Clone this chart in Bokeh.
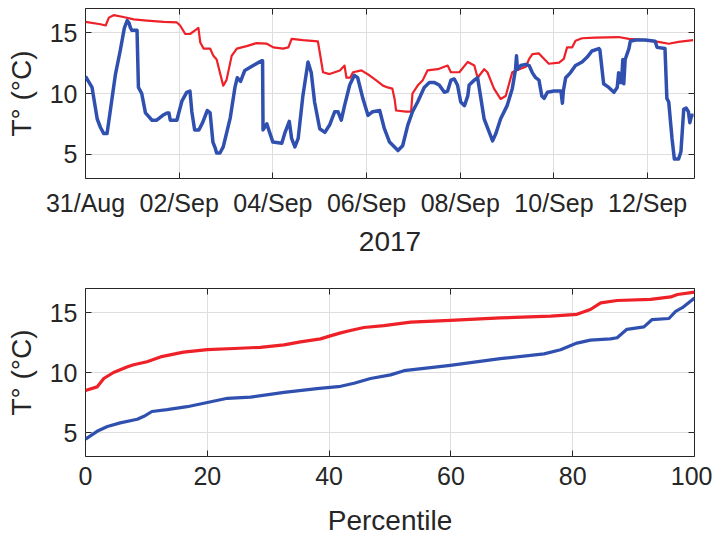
import numpy as np
from bokeh.plotting import figure
from bokeh.layouts import column
from bokeh.models import (FixedTicker, DatetimeTickFormatter, Range1d, LinearAxis,
                          DatetimeAxis, CustomJSTickFormatter)
from bokeh.embed import file_html
from bokeh.resources import INLINE

# ---------------- data ----------------
start_date = "2017-08-31T00:00"
end_date = "2017-09-13T00:00"
tick_dates = ["2017-08-31", "2017-09-02", "2017-09-04", "2017-09-06",
              "2017-09-08", "2017-09-10", "2017-09-12"]

# blue series: days since 31/Aug 00:00, temperature
blue_days = [0.00, 0.14, 0.25, 0.32, 0.39, 0.46, 0.53, 0.64, 0.74, 0.83, 0.89, 0.93, 0.96, 0.99,
             1.10, 1.13, 1.20, 1.28, 1.42, 1.52, 1.65, 1.74, 1.78, 1.81, 1.95, 2.06, 2.16, 2.23,
             2.27, 2.33, 2.42, 2.50, 2.60, 2.66, 2.72, 2.77, 2.80, 2.87, 2.94, 3.09, 3.19, 3.24,
             3.31, 3.40, 3.58, 3.76, 3.78, 3.79, 3.87, 3.93, 4.00, 4.19, 4.26, 4.35, 4.40, 4.47,
             4.54, 4.64, 4.75, 4.82, 4.89, 5.00, 5.11, 5.21, 5.32, 5.39, 5.46, 5.53, 5.64, 5.74,
             5.81, 5.92, 6.03, 6.13, 6.28, 6.38, 6.49, 6.67, 6.77, 6.88, 6.98, 7.09, 7.23, 7.34,
             7.45, 7.55, 7.66, 7.73, 7.80, 7.87, 7.94, 8.01, 8.09, 8.16, 8.19, 8.30, 8.37, 8.44,
             8.51, 8.62, 8.69, 8.76, 8.86, 9.00, 9.11, 9.18, 9.20, 9.22, 9.29, 9.40, 9.47, 9.54,
             9.61, 9.68, 9.74, 9.79, 9.86, 10.00, 10.11, 10.15, 10.18, 10.20, 10.25, 10.35, 10.46,
             10.60, 10.71, 10.81, 10.96, 10.98, 11.06, 11.17, 11.28, 11.35, 11.38, 11.41, 11.44,
             11.47, 11.49, 11.52, 11.60, 11.63, 11.74, 11.95, 12.16, 12.20, 12.37, 12.41, 12.45,
             12.52, 12.57, 12.66, 12.71, 12.77, 12.82, 12.87, 12.90, 12.94, 12.98]
blue_temp = [11.4, 10.5, 7.9, 7.2, 6.7, 6.7, 8.6, 11.6, 13.5, 15.4, 16.0, 15.8, 15.4, 15.2,
             15.2, 10.5, 10.0, 8.4, 7.8, 7.8, 8.2, 8.4, 8.4, 7.8, 7.8, 9.4, 10.1, 10.2,
             8.5, 7.0, 7.0, 7.6, 8.6, 8.4, 6.0, 5.5, 5.1, 5.1, 5.6, 8.0, 10.5, 11.3,
             11.0, 11.9, 12.3, 12.7, 12.7, 7.0, 7.5, 6.8, 6.0, 5.9, 6.8, 7.7, 6.3, 5.6,
             6.3, 9.8, 12.6, 11.7, 9.3, 7.1, 6.8, 7.4, 8.5, 8.5, 7.8, 9.0, 10.7, 11.5,
             11.3, 9.6, 8.2, 8.5, 8.6, 7.1, 6.0, 5.3, 5.7, 7.4, 8.5, 9.3, 10.5, 10.9,
             10.9, 10.7, 10.1, 10.2, 11.1, 11.2, 10.7, 9.3, 9.0, 9.8, 10.7, 11.1, 11.3, 9.6,
             7.9, 6.8, 6.1, 6.7, 7.9, 9.0, 10.4, 12.0, 13.1, 12.0, 12.3, 12.4, 12.3, 11.7,
             11.3, 11.1, 9.8, 9.6, 10.1, 10.2, 10.2, 10.2, 9.2, 10.2, 11.3, 11.7, 12.3,
             12.6, 13.0, 13.5, 13.7, 13.6, 10.8, 10.5, 10.1, 10.5, 11.7, 10.9, 10.9,
             12.8, 10.8, 12.8, 13.7, 14.3, 14.4, 14.4, 14.3, 13.8, 13.7, 9.6, 9.3,
             6.3, 4.6, 4.6, 5.2, 8.7, 8.8, 8.5, 7.6, 8.2, 8.2]

# red series
red_days = [0.00, 0.32, 0.43, 0.50, 0.60, 0.81, 1.03, 1.31, 1.67, 1.95, 2.02, 2.13, 2.23, 2.34,
            2.41, 2.45, 2.52, 2.66, 2.73, 2.80, 2.87, 2.94, 3.01, 3.12, 3.23, 3.44, 3.65, 3.87,
            4.01, 4.22, 4.33, 4.40, 4.64, 4.96, 5.00, 5.07, 5.21, 5.43, 5.53, 5.57, 5.65, 5.71,
            5.89, 6.06, 6.20, 6.35, 6.45, 6.55, 6.60, 6.63, 6.84, 6.95, 6.98, 7.09, 7.20, 7.30,
            7.52, 7.73, 7.80, 7.98, 8.16, 8.30, 8.37, 8.51, 8.58, 8.72, 8.86, 8.97, 9.11, 9.26,
            9.40, 9.47, 9.54, 9.68, 9.75, 9.89, 10.11, 10.21, 10.28, 10.39, 10.46, 10.60, 10.88,
            11.38, 11.60, 11.95, 12.23, 12.45, 12.66, 12.97]
red_temp = [15.9, 15.7, 15.6, 16.25, 16.45, 16.3, 16.1, 16.0, 15.9, 15.85, 15.6, 14.9, 14.9, 15.2,
            15.4, 14.2, 13.7, 13.7, 13.1, 12.8, 11.7, 10.65, 11.1, 13.1, 13.7, 13.9, 14.15, 14.1,
            13.8, 13.7, 13.8, 14.5, 14.4, 14.3, 13.4, 11.75, 11.6, 11.9, 12.3, 11.3, 11.3, 11.75,
            11.9, 11.5, 11.1, 10.65, 10.5, 10.4, 9.5, 8.6, 8.5, 8.5, 10.0, 10.65, 11.1, 11.9,
            12.0, 12.3, 11.75, 11.75, 12.6, 12.3, 11.3, 12.0, 11.75, 10.4, 9.55, 9.8, 11.75, 12.0,
            12.2, 12.85, 13.25, 13.3, 13.0, 12.45, 12.55, 12.85, 13.8, 13.8, 14.35, 14.55, 14.6,
            14.65, 14.5, 14.4, 14.25, 14.1, 14.25, 14.4]

# percentile curves
red_pct = [0, 1.9, 3, 4.6, 6.8, 7.9, 10.1, 12.3, 16.1, 20, 24.4, 28.7, 32.6, 35.3, 38.6, 40.2,
           41.9, 43.5, 45.7, 49, 53.4, 59.9, 68.1, 76.4, 80.7, 82.9, 84.6, 87.3, 92.8, 96.1,
           97.2, 100]
red_pct_temp = [8.5, 8.8, 9.5, 10.0, 10.45, 10.65, 10.9, 11.3, 11.7, 11.9, 12.0, 12.1, 12.3,
                12.55, 12.8, 13.05, 13.3, 13.5, 13.75, 13.9, 14.2, 14.35, 14.55, 14.7, 14.85,
                15.25, 15.8, 16.0, 16.1, 16.3, 16.5, 16.7]
blue_pct = [0, 1.9, 3.6, 5.7, 8.5, 9.6, 10.9, 13.4, 16.7, 20, 23.3, 27.1, 32.6, 38, 41.9, 44.1,
            46.8, 50.1, 52.3, 59.9, 68.1, 75.3, 78, 80.7, 82.9, 86.2, 87.3, 88.9, 91.7, 93,
            95.8, 96.9, 98, 100]
blue_pct_temp = [4.45, 5.1, 5.5, 5.8, 6.1, 6.35, 6.75, 6.9, 7.15, 7.5, 7.85, 7.95, 8.35, 8.65,
                 8.85, 9.1, 9.5, 9.8, 10.15, 10.6, 11.15, 11.55, 11.9, 12.45, 12.7, 12.8, 12.9,
                 13.6, 13.8, 14.4, 14.5, 15.1, 15.4, 16.2]

y_ticks = [5, 10, 15]
pct_ticks = [0, 20, 40, 60, 80, 100]

# ---------------- style ----------------
RED = "#EE2028"
BLUE = "#3050B0"
TXT = "#262626"
FONT = "Liberation Sans"
TICK_FS = "25px"
LAB_FS = "28px"
GRID = "#dedede"

t0 = np.datetime64(start_date)


def to_dt(days):
    return t0 + (np.array(days) * 86400000).astype("timedelta64[ms]")


def style_axis(ax):
    ax.axis_line_color = None
    ax.major_tick_in = 6
    ax.major_tick_out = 0
    ax.minor_tick_in = 0
    ax.minor_tick_out = 0
    ax.major_tick_line_color = TXT
    ax.major_label_text_font = FONT
    ax.major_label_text_font_size = TICK_FS
    ax.major_label_text_color = TXT
    ax.axis_label_text_font = FONT
    ax.axis_label_text_font_size = LAB_FS
    ax.axis_label_text_font_style = "normal"
    ax.axis_label_text_color = TXT


def blank_axis(ax):
    style_axis(ax)
    ax.major_label_text_font_size = "0px"
    ax.major_label_standoff = 0
    ax.formatter = CustomJSTickFormatter(code="return ''")


def style_fig(p):
    p.outline_line_color = TXT
    p.outline_line_width = 1
    p.xgrid.grid_line_color = GRID
    p.ygrid.grid_line_color = GRID
    p.background_fill_color = "white"
    p.border_fill_color = "white"


tick_ms = [np.datetime64(d).astype("datetime64[ms]").astype(np.int64) for d in tick_dates]

# ---------------- top figure ----------------
p1 = figure(width=712, height=278, x_axis_type="datetime", output_backend="svg",
            toolbar_location=None, min_border_left=85, min_border_right=18,
            min_border_top=8, min_border_bottom=100,
            x_range=Range1d(np.datetime64(start_date), np.datetime64(end_date)),
            y_range=Range1d(3, 17))
style_fig(p1)
p1.line(to_dt(red_days), red_temp, color=RED, line_width=2.2, line_join="round")
p1.line(to_dt(blue_days), blue_temp, color=BLUE, line_width=3.5, line_join="round")

p1.xaxis.ticker = FixedTicker(ticks=tick_ms)
p1.xaxis.formatter = DatetimeTickFormatter(days="%d/%b", months="%d/%b", hours="%d/%b")
p1.yaxis.ticker = FixedTicker(ticks=y_ticks)
p1.xaxis.axis_label = "2017"
p1.yaxis.axis_label = "T° (°C)"
for ax in p1.xaxis + p1.yaxis:
    style_axis(ax)
p1.xaxis.major_label_standoff = 10
p1.yaxis.major_label_standoff = 8
p1.xaxis.axis_label_standoff = 12
p1.yaxis.axis_label_standoff = 10

ax_r1 = LinearAxis(ticker=FixedTicker(ticks=y_ticks))
blank_axis(ax_r1)
p1.add_layout(ax_r1, "right")
ax_t1 = DatetimeAxis(ticker=FixedTicker(ticks=tick_ms))
blank_axis(ax_t1)
p1.add_layout(ax_t1, "above")

# ---------------- bottom figure ----------------
p2 = figure(width=712, height=260, output_backend="svg", toolbar_location=None,
            min_border_left=85, min_border_right=18, min_border_top=10, min_border_bottom=79,
            x_range=Range1d(0, 100), y_range=Range1d(3, 17))
style_fig(p2)
p2.line(red_pct, red_pct_temp, color=RED, line_width=3.2, line_join="round")
p2.line(blue_pct, blue_pct_temp, color=BLUE, line_width=3.2, line_join="round")
p2.xaxis.ticker = FixedTicker(ticks=pct_ticks)
p2.yaxis.ticker = FixedTicker(ticks=y_ticks)
p2.xaxis.axis_label = "Percentile"
p2.yaxis.axis_label = "T° (°C)"
for ax in p2.xaxis + p2.yaxis:
    style_axis(ax)
p2.xaxis.major_label_standoff = 10
p2.yaxis.major_label_standoff = 8
p2.xaxis.axis_label_standoff = 17
p2.yaxis.axis_label_standoff = 10

ax_r2 = LinearAxis(ticker=FixedTicker(ticks=y_ticks))
blank_axis(ax_r2)
p2.add_layout(ax_r2, "right")
ax_t2 = LinearAxis(ticker=FixedTicker(ticks=pct_ticks))
blank_axis(ax_t2)
p2.add_layout(ax_t2, "above")

layout = column(p1, p2, spacing=0)
open("out.html", "w").write(file_html(layout, INLINE))
